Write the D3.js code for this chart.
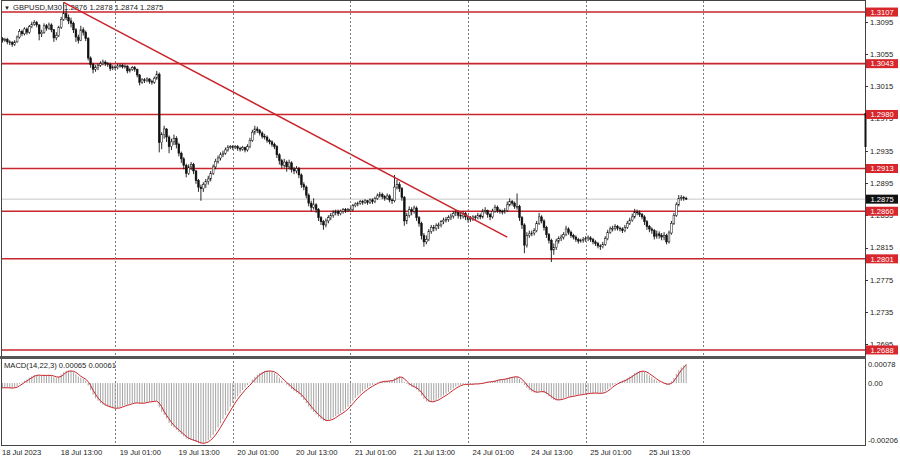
<!DOCTYPE html>
<html><head><meta charset="utf-8">
<script src="https://cdn.jsdelivr.net/npm/d3@7"></script>
<style>
body{margin:0;background:#fff}
svg{display:block}
text{font-family:"Liberation Sans",Arial,sans-serif}
</style>
</head><body>
<svg id="c" width="900" height="460"></svg>
<script>
// ---------------- DATA ----------------
const symbol = "GBPUSD,M30";
const macdName = "MACD(14,22,3)";
// M30 bars, index 0 = 18 Jul 2023 01:00
const opens = [
1.3071,1.3073,1.3074,1.3072,1.3073,1.3070,1.3069,1.3067,1.3070,1.3076,
1.3083,1.3080,1.3086,1.3082,1.3089,1.3092,1.3094,1.3091,1.3080,1.3082,
1.3090,1.3087,1.3091,1.3085,1.3075,1.3078,1.3088,1.3098,1.3105,1.3100,
1.3096,1.3093,1.3085,1.3076,1.3072,1.3085,1.3082,1.3074,1.3050,1.3042,
1.3036,1.3038,1.3041,1.3043,1.3045,1.3043,1.3042,1.3037,1.3039,1.3038,
1.3040,1.3041,1.3039,1.3040,1.3034,1.3036,1.3038,1.3036,1.3029,1.3020,
1.3023,1.3022,1.3024,1.3021,1.3020,1.3025,1.3030,1.2945,1.2955,1.2962,
1.2952,1.2940,1.2946,1.2950,1.2943,1.2932,1.2925,1.2917,1.2907,1.2915,
1.2918,1.2910,1.2898,1.2890,1.2888,1.2893,1.2897,1.2900,1.2907,1.2915,
1.2922,1.2926,1.2930,1.2932,1.2936,1.2939,1.2940,1.2939,1.2940,1.2938,
1.2937,1.2939,1.2936,1.2940,1.2948,1.2958,1.2962,1.2960,1.2957,1.2953,
1.2952,1.2948,1.2946,1.2943,1.2940,1.2930,1.2923,1.2917,1.2921,1.2915,
1.2920,1.2912,1.2910,1.2913,1.2905,1.2893,1.2890,1.2880,1.2870,1.2865,
1.2868,1.2862,1.2852,1.2847,1.2843,1.2848,1.2852,1.2855,1.2858,1.2860,
1.2857,1.2860,1.2862,1.2861,1.2862,1.2862,1.2867,1.2869,1.2870,1.2872,
1.2871,1.2873,1.2871,1.2874,1.2872,1.2876,1.2879,1.2881,1.2878,1.2876,
1.2879,1.2874,1.2873,1.2890,1.2893,1.2888,1.2877,1.2848,1.2855,1.2862,
1.2860,1.2864,1.2852,1.2845,1.2830,1.2822,1.2825,1.2835,1.2840,1.2839,
1.2842,1.2843,1.2847,1.2849,1.2850,1.2852,1.2854,1.2857,1.2859,1.2855,
1.2854,1.2857,1.2853,1.2850,1.2851,1.2853,1.2852,1.2855,1.2853,1.2860,
1.2861,1.2856,1.2853,1.2860,1.2865,1.2861,1.2860,1.2859,1.2861,1.2868,
1.2872,1.2870,1.2866,1.2866,1.2852,1.2843,1.2818,1.2830,1.2832,1.2833,
1.2836,1.2845,1.2853,1.2848,1.2840,1.2831,1.2824,1.2812,1.2815,1.2823,
1.2826,1.2828,1.2831,1.2838,1.2834,1.2830,1.2828,1.2825,1.2823,1.2824,
1.2825,1.2826,1.2827,1.2825,1.2822,1.2820,1.2817,1.2816,1.2819,1.2826,
1.2834,1.2838,1.2839,1.2841,1.2839,1.2838,1.2836,1.2840,1.2845,1.2849,
1.2853,1.2859,1.2858,1.2856,1.2853,1.2847,1.2841,1.2838,1.2836,1.2829,
1.2832,1.2830,1.2828,1.2830,1.2822,1.2833,1.2845,1.2855,1.2868,1.2876,
1.2877,1.2876];
const highs = [
1.3076,1.3077,1.3076,1.3075,1.3075,1.3072,1.3071,1.3072,1.3078,1.3086,
1.3085,1.3088,1.3088,1.3091,1.3095,1.3097,1.3096,1.3092,1.3085,1.3093,
1.3092,1.3094,1.3093,1.3086,1.3082,1.3090,1.3101,1.3119,1.3110,1.3104,
1.3100,1.3095,1.3087,1.3079,1.3090,1.3088,1.3084,1.3076,1.3052,1.3044,
1.3041,1.3043,1.3046,1.3048,1.3047,1.3045,1.3044,1.3041,1.3041,1.3043,
1.3043,1.3043,1.3042,1.3041,1.3038,1.3040,1.3040,1.3037,1.3030,1.3025,
1.3025,1.3026,1.3025,1.3023,1.3027,1.3034,1.3032,1.2958,1.2966,1.2963,
1.2954,1.2950,1.2955,1.2953,1.2945,1.2934,1.2927,1.2919,1.2918,1.2921,
1.2920,1.2911,1.2900,1.2893,1.2896,1.2900,1.2904,1.2910,1.2918,1.2925,
1.2929,1.2933,1.2935,1.2939,1.2942,1.2942,1.2942,1.2942,1.2942,1.2940,
1.2941,1.2940,1.2943,1.2951,1.2961,1.2966,1.2965,1.2962,1.2959,1.2956,
1.2954,1.2950,1.2948,1.2945,1.2942,1.2932,1.2925,1.2925,1.2923,1.2924,
1.2922,1.2915,1.2916,1.2915,1.2907,1.2896,1.2892,1.2882,1.2873,1.2876,
1.2870,1.2864,1.2854,1.2849,1.2851,1.2855,1.2858,1.2861,1.2862,1.2862,
1.2862,1.2864,1.2864,1.2864,1.2865,1.2869,1.2871,1.2872,1.2874,1.2874,
1.2875,1.2874,1.2876,1.2876,1.2878,1.2882,1.2884,1.2883,1.2880,1.2882,
1.2881,1.2876,1.2905,1.2899,1.2896,1.2890,1.2879,1.2858,1.2866,1.2865,
1.2867,1.2866,1.2854,1.2847,1.2833,1.2830,1.2838,1.2843,1.2843,1.2845,
1.2846,1.2849,1.2852,1.2853,1.2855,1.2857,1.2860,1.2862,1.2861,1.2858,
1.2860,1.2859,1.2855,1.2854,1.2855,1.2855,1.2858,1.2857,1.2863,1.2865,
1.2862,1.2858,1.2863,1.2868,1.2867,1.2863,1.2862,1.2864,1.2872,1.2876,
1.2874,1.2872,1.2882,1.2868,1.2854,1.2845,1.2834,1.2836,1.2836,1.2839,
1.2848,1.2858,1.2855,1.2850,1.2842,1.2833,1.2826,1.2820,1.2826,1.2829,
1.2831,1.2834,1.2842,1.2840,1.2836,1.2832,1.2830,1.2827,1.2826,1.2828,
1.2829,1.2830,1.2829,1.2827,1.2824,1.2822,1.2819,1.2822,1.2829,1.2837,
1.2841,1.2842,1.2844,1.2843,1.2841,1.2840,1.2843,1.2848,1.2852,1.2857,
1.2863,1.2862,1.2861,1.2858,1.2855,1.2849,1.2843,1.2840,1.2838,1.2836,
1.2835,1.2833,1.2834,1.2832,1.2836,1.2848,1.2858,1.2871,1.2880,1.2880,
1.2879,1.2878];
const lows = [
1.3068,1.3070,1.3069,1.3070,1.3067,1.3066,1.3064,1.3065,1.3069,1.3074,
1.3077,1.3078,1.3079,1.3080,1.3087,1.3090,1.3088,1.3072,1.3076,1.3080,
1.3084,1.3085,1.3082,1.3070,1.3072,1.3076,1.3086,1.3096,1.3097,1.3092,
1.3088,1.3081,1.3070,1.3068,1.3071,1.3078,1.3071,1.3047,1.3038,1.3031,
1.3033,1.3035,1.3039,1.3041,1.3040,1.3039,1.3034,1.3035,1.3035,1.3036,
1.3038,1.3037,1.3037,1.3031,1.3032,1.3034,1.3033,1.3026,1.3016,1.3018,
1.3019,1.3020,1.3018,1.3017,1.3018,1.3023,1.2933,1.2937,1.2950,1.2946,
1.2932,1.2936,1.2942,1.2938,1.2928,1.2920,1.2912,1.2902,1.2905,1.2911,
1.2906,1.2894,1.2884,1.2873,1.2884,1.2889,1.2893,1.2897,1.2905,1.2912,
1.2919,1.2923,1.2927,1.2930,1.2934,1.2937,1.2936,1.2937,1.2935,1.2934,
1.2935,1.2933,1.2934,1.2938,1.2946,1.2955,1.2957,1.2954,1.2950,1.2949,
1.2945,1.2943,1.2940,1.2937,1.2926,1.2918,1.2913,1.2914,1.2909,1.2912,
1.2908,1.2906,1.2907,1.2901,1.2889,1.2886,1.2876,1.2866,1.2860,1.2862,
1.2858,1.2848,1.2843,1.2837,1.2840,1.2845,1.2849,1.2852,1.2855,1.2854,
1.2855,1.2857,1.2858,1.2859,1.2859,1.2860,1.2865,1.2866,1.2868,1.2868,
1.2869,1.2868,1.2869,1.2869,1.2870,1.2874,1.2877,1.2875,1.2873,1.2874,
1.2871,1.2869,1.2871,1.2887,1.2884,1.2873,1.2842,1.2844,1.2852,1.2855,
1.2857,1.2848,1.2841,1.2825,1.2816,1.2819,1.2823,1.2832,1.2835,1.2836,
1.2838,1.2840,1.2844,1.2846,1.2847,1.2849,1.2851,1.2854,1.2851,1.2850,
1.2851,1.2849,1.2846,1.2847,1.2848,1.2849,1.2850,1.2850,1.2851,1.2857,
1.2852,1.2849,1.2851,1.2858,1.2858,1.2857,1.2856,1.2857,1.2859,1.2866,
1.2867,1.2863,1.2862,1.2848,1.2838,1.2808,1.2815,1.2827,1.2829,1.2830,
1.2834,1.2843,1.2845,1.2836,1.2827,1.2820,1.2797,1.2806,1.2812,1.2820,
1.2823,1.2825,1.2829,1.2831,1.2827,1.2825,1.2822,1.2820,1.2821,1.2821,
1.2822,1.2823,1.2822,1.2819,1.2817,1.2814,1.2812,1.2814,1.2817,1.2824,
1.2832,1.2835,1.2836,1.2836,1.2835,1.2833,1.2834,1.2838,1.2843,1.2847,
1.2851,1.2855,1.2853,1.2850,1.2843,1.2837,1.2834,1.2832,1.2825,1.2826,
1.2826,1.2824,1.2824,1.2819,1.2820,1.2831,1.2843,1.2853,1.2866,1.2873,
1.2873,1.2874];
const closes = [
1.3073,1.3074,1.3072,1.3073,1.3070,1.3069,1.3067,1.3070,1.3076,1.3083,
1.3080,1.3086,1.3082,1.3089,1.3092,1.3094,1.3091,1.3080,1.3082,1.3090,
1.3087,1.3091,1.3085,1.3075,1.3078,1.3088,1.3098,1.3105,1.3100,1.3096,
1.3093,1.3085,1.3076,1.3072,1.3085,1.3082,1.3074,1.3050,1.3042,1.3036,
1.3038,1.3041,1.3043,1.3045,1.3043,1.3042,1.3037,1.3039,1.3038,1.3040,
1.3041,1.3039,1.3040,1.3034,1.3036,1.3038,1.3036,1.3029,1.3020,1.3023,
1.3022,1.3024,1.3021,1.3020,1.3025,1.3030,1.2945,1.2955,1.2962,1.2952,
1.2940,1.2946,1.2950,1.2943,1.2932,1.2925,1.2917,1.2907,1.2915,1.2918,
1.2910,1.2898,1.2890,1.2888,1.2893,1.2897,1.2900,1.2907,1.2915,1.2922,
1.2926,1.2930,1.2932,1.2936,1.2939,1.2940,1.2939,1.2940,1.2938,1.2937,
1.2939,1.2936,1.2940,1.2948,1.2958,1.2962,1.2960,1.2957,1.2953,1.2952,
1.2948,1.2946,1.2943,1.2940,1.2930,1.2923,1.2917,1.2921,1.2915,1.2920,
1.2912,1.2910,1.2913,1.2905,1.2893,1.2890,1.2880,1.2870,1.2865,1.2868,
1.2862,1.2852,1.2847,1.2843,1.2848,1.2852,1.2855,1.2858,1.2860,1.2857,
1.2860,1.2862,1.2861,1.2862,1.2862,1.2867,1.2869,1.2870,1.2872,1.2871,
1.2873,1.2871,1.2874,1.2872,1.2876,1.2879,1.2881,1.2878,1.2876,1.2879,
1.2874,1.2873,1.2890,1.2893,1.2888,1.2877,1.2848,1.2855,1.2862,1.2860,
1.2864,1.2852,1.2845,1.2830,1.2822,1.2825,1.2835,1.2840,1.2839,1.2842,
1.2843,1.2847,1.2849,1.2850,1.2852,1.2854,1.2857,1.2859,1.2855,1.2854,
1.2857,1.2853,1.2850,1.2851,1.2853,1.2852,1.2855,1.2853,1.2860,1.2861,
1.2856,1.2853,1.2860,1.2865,1.2861,1.2860,1.2859,1.2861,1.2868,1.2872,
1.2870,1.2866,1.2866,1.2852,1.2843,1.2818,1.2830,1.2832,1.2833,1.2836,
1.2845,1.2853,1.2848,1.2840,1.2831,1.2824,1.2812,1.2815,1.2823,1.2826,
1.2828,1.2831,1.2838,1.2834,1.2830,1.2828,1.2825,1.2823,1.2824,1.2825,
1.2826,1.2827,1.2825,1.2822,1.2820,1.2817,1.2816,1.2819,1.2826,1.2834,
1.2838,1.2839,1.2841,1.2839,1.2838,1.2836,1.2840,1.2845,1.2849,1.2853,
1.2859,1.2858,1.2856,1.2853,1.2847,1.2841,1.2838,1.2836,1.2829,1.2832,
1.2830,1.2828,1.2830,1.2822,1.2833,1.2845,1.2855,1.2868,1.2876,1.2877,
1.2876,1.2875];
const macd = [
-0.00014,-0.00016,-0.00017,-0.00016,-0.00016,-0.00017,-0.00017,-0.00015,-0.00010,-0.00003,
0.00002,0.00008,0.00012,0.00018,0.00023,0.00027,0.00028,0.00026,0.00025,0.00026,
0.00026,0.00027,0.00025,0.00020,0.00018,0.00022,0.00029,0.00037,0.00041,0.00042,
0.00041,0.00037,0.00030,0.00022,0.00018,0.00014,0.00008,-0.00008,-0.00024,-0.00039,
-0.00051,-0.00060,-0.00068,-0.00073,-0.00077,-0.00080,-0.00083,-0.00085,-0.00086,-0.00084,
-0.00081,-0.00078,-0.00075,-0.00073,-0.00070,-0.00068,-0.00067,-0.00067,-0.00069,-0.00068,
-0.00066,-0.00064,-0.00063,-0.00062,-0.00061,-0.00060,-0.00082,-0.00098,-0.00108,-0.00120,
-0.00135,-0.00145,-0.00150,-0.00158,-0.00166,-0.00173,-0.00180,-0.00188,-0.00191,-0.00192,
-0.00195,-0.00199,-0.00203,-0.00205,-0.00203,-0.00199,-0.00194,-0.00186,-0.00176,-0.00163,
-0.00150,-0.00136,-0.00122,-0.00108,-0.00094,-0.00080,-0.00067,-0.00055,-0.00044,-0.00034,
-0.00024,-0.00015,-0.00007,0.00002,0.00012,0.00021,0.00028,0.00034,0.00038,0.00041,
0.00042,0.00041,0.00038,0.00034,0.00027,0.00018,0.00009,0.00002,-0.00006,-0.00012,
-0.00020,-0.00027,-0.00032,-0.00038,-0.00048,-0.00057,-0.00068,-0.00080,-0.00090,-0.00098,
-0.00106,-0.00115,-0.00122,-0.00127,-0.00128,-0.00126,-0.00122,-0.00117,-0.00111,-0.00106,
-0.00101,-0.00095,-0.00088,-0.00080,-0.00070,-0.00060,-0.00050,-0.00042,-0.00035,-0.00028,
-0.00021,-0.00016,-0.00010,-0.00006,-0.00002,0.00002,0.00005,0.00006,0.00006,0.00007,
0.00008,0.00009,0.00016,0.00021,0.00022,0.00018,0.00004,-0.00003,-0.00008,-0.00012,
-0.00015,-0.00022,-0.00030,-0.00042,-0.00054,-0.00062,-0.00064,-0.00063,-0.00061,-0.00057,
-0.00052,-0.00047,-0.00042,-0.00036,-0.00030,-0.00024,-0.00018,-0.00012,-0.00008,-0.00006,
-0.00004,-0.00004,-0.00004,-0.00004,-0.00003,-0.00003,-0.00002,-0.00002,0.00001,0.00003,
0.00004,0.00004,0.00006,0.00009,0.00011,0.00012,0.00013,0.00014,0.00017,0.00020,
0.00021,0.00021,0.00021,0.00014,0.00005,-0.00007,-0.00016,-0.00024,-0.00029,-0.00032,
-0.00031,-0.00027,-0.00028,-0.00033,-0.00038,-0.00045,-0.00052,-0.00057,-0.00058,-0.00057,
-0.00054,-0.00051,-0.00047,-0.00046,-0.00045,-0.00043,-0.00041,-0.00040,-0.00039,-0.00037,
-0.00036,-0.00035,-0.00034,-0.00034,-0.00034,-0.00035,-0.00035,-0.00033,-0.00028,-0.00021,
-0.00014,-0.00008,-0.00003,0.00001,0.00005,0.00008,0.00012,0.00017,0.00022,0.00027,
0.00034,0.00038,0.00041,0.00041,0.00038,0.00032,0.00026,0.00020,0.00013,0.00008,
0.00004,0.00000,-0.00003,-0.00006,-0.00003,0.00006,0.00017,0.00031,0.00044,0.00053,
0.00060,0.00065];
const signal = [
-0.00013,-0.00015,-0.00016,-0.00016,-0.00016,-0.00016,-0.00017,-0.00016,-0.00014,-0.00009,
-0.00004,0.00002,0.00007,0.00013,0.00018,0.00023,0.00026,0.00027,0.00026,0.00026,
0.00026,0.00026,0.00026,0.00024,0.00021,0.00020,0.00023,0.00029,0.00036,0.00040,
0.00041,0.00040,0.00036,0.00030,0.00023,0.00018,0.00013,0.00005,-0.00008,-0.00024,
-0.00038,-0.00050,-0.00060,-0.00067,-0.00073,-0.00077,-0.00080,-0.00083,-0.00085,-0.00085,
-0.00084,-0.00081,-0.00078,-0.00075,-0.00073,-0.00070,-0.00068,-0.00067,-0.00068,-0.00068,
-0.00068,-0.00066,-0.00064,-0.00063,-0.00062,-0.00061,-0.00068,-0.00080,-0.00096,-0.00109,
-0.00121,-0.00133,-0.00143,-0.00151,-0.00158,-0.00166,-0.00173,-0.00180,-0.00186,-0.00190,
-0.00193,-0.00195,-0.00199,-0.00202,-0.00204,-0.00202,-0.00199,-0.00193,-0.00185,-0.00175,
-0.00163,-0.00150,-0.00136,-0.00122,-0.00108,-0.00094,-0.00080,-0.00067,-0.00055,-0.00044,
-0.00034,-0.00024,-0.00015,-0.00007,0.00002,0.00012,0.00020,0.00028,0.00033,0.00038,
0.00040,0.00041,0.00040,0.00038,0.00033,0.00026,0.00018,0.00010,0.00002,-0.00005,
-0.00013,-0.00020,-0.00026,-0.00032,-0.00039,-0.00048,-0.00058,-0.00068,-0.00079,-0.00089,
-0.00098,-0.00106,-0.00114,-0.00121,-0.00126,-0.00127,-0.00125,-0.00122,-0.00117,-0.00111,
-0.00106,-0.00101,-0.00095,-0.00088,-0.00079,-0.00070,-0.00060,-0.00051,-0.00042,-0.00035,
-0.00028,-0.00022,-0.00016,-0.00011,-0.00006,-0.00002,0.00002,0.00004,0.00006,0.00006,
0.00007,0.00008,0.00011,0.00015,0.00020,0.00020,0.00015,0.00006,-0.00002,-0.00008,
-0.00012,-0.00016,-0.00022,-0.00031,-0.00042,-0.00053,-0.00060,-0.00063,-0.00063,-0.00060,
-0.00057,-0.00052,-0.00047,-0.00042,-0.00036,-0.00030,-0.00024,-0.00018,-0.00013,-0.00009,
-0.00006,-0.00005,-0.00004,-0.00004,-0.00004,-0.00003,-0.00003,-0.00002,-0.00001,0.00001,
0.00003,0.00004,0.00005,0.00006,0.00009,0.00011,0.00012,0.00013,0.00015,0.00017,
0.00019,0.00021,0.00021,0.00019,0.00013,0.00004,-0.00006,-0.00016,-0.00023,-0.00028,
-0.00031,-0.00030,-0.00029,-0.00029,-0.00033,-0.00039,-0.00045,-0.00051,-0.00056,-0.00057,
-0.00056,-0.00054,-0.00051,-0.00048,-0.00046,-0.00045,-0.00043,-0.00041,-0.00040,-0.00039,
-0.00037,-0.00036,-0.00035,-0.00034,-0.00034,-0.00034,-0.00035,-0.00034,-0.00032,-0.00027,
-0.00021,-0.00014,-0.00008,-0.00003,0.00001,0.00005,0.00008,0.00012,0.00017,0.00022,
0.00028,0.00033,0.00038,0.00040,0.00040,0.00037,0.00032,0.00026,0.00020,0.00014,
0.00008,0.00004,0.00000,-0.00003,-0.00004,-0.00001,0.00007,0.00018,0.00031,0.00043,
0.00052,0.00061];
// horizontal support / resistance levels
const levels = [1.3107, 1.3043, 1.2980, 1.2913, 1.2860, 1.2801, 1.2688];
// trend line anchors (bar index, price)
const trendBars = [27, 208];
const trendPrices = [1.3119, 1.2828];
// axes
const priceTicks = [1.3095,1.3055,1.3015,1.2975,1.2935,1.2895,1.2855,1.2815,1.2775,1.2735,1.2695];
const macdTicks = [0.00078, 0, -0.00206];
const macdTickLabels = ["0.00078", "0.00", "-0.00206"];
const timeBars = [0,24,48,72,96,120,144,168,192,216,240,264];
const timeLabels = ["18 Jul 2023","18 Jul 13:00","19 Jul 01:00","19 Jul 13:00","20 Jul 01:00","20 Jul 13:00",
  "21 Jul 01:00","21 Jul 13:00","24 Jul 01:00","24 Jul 13:00","25 Jul 01:00","25 Jul 13:00"];
const gridBars = [48,96,144,192,240,288];

// ---------------- LAYOUT ----------------
const L = 1, R = 865, mainT = 1, mainB = 356, macdT = 359, macdB = 445;
const RED = "#c9252c", BOXRED = "#d7262c";
const FS = 7.6;
const svg = d3.select("#c");
const x = d3.scaleLinear().domain([0, 288]).range([-2.5, 703.3]);
const y = d3.scaleLinear().domain([1.26805, 1.31207]).range([mainB, mainT]);
const ym = d3.scaleLinear().domain([-0.00206, 0.00078]).range([444, 360]);
const fmt4 = d3.format(".4f"), fmt5 = d3.format(".5f");

svg.append("rect").attr("width", 900).attr("height", 460).attr("fill", "#fff");
const defs = svg.append("defs");
defs.append("clipPath").attr("id", "cm").append("rect").attr("x", L).attr("y", mainT).attr("width", R - L).attr("height", mainB - mainT);
defs.append("clipPath").attr("id", "cd").append("rect").attr("x", L).attr("y", macdT).attr("width", R - L).attr("height", macdB - macdT);

const n = closes.length, last = n - 1;

// title
const gm = svg.append("g").attr("clip-path", "url(#cm)");
gm.append("text").attr("x", 4).attr("y", 9.5).attr("font-size", 6).attr("fill", "#222").text("\u25BC");
gm.append("text").attr("x", 13).attr("y", 9.6).attr("font-size", FS).attr("fill", "#222")
  .text(`${symbol} ${fmt4(opens[last])} ${fmt4(highs[last])} ${fmt4(lows[last])} ${fmt4(closes[last])}`);

// vertical dotted grid (both panels)
svg.append("g").selectAll("line").data(gridBars).join("line")
  .attr("x1", d => Math.round(x(d)) + 0.5).attr("x2", d => Math.round(x(d)) + 0.5)
  .attr("y1", mainT).attr("y2", macdB)
  .attr("stroke", "#7a7a7a").attr("stroke-width", 1).attr("stroke-dasharray", "2,2");

// current price line
gm.append("line").attr("x1", L).attr("x2", R).attr("y1", y(closes[last])).attr("y2", y(closes[last]))
  .attr("stroke", "#c8c8c8").attr("stroke-width", 1);

// level lines
gm.selectAll("line.lvl").data(levels).join("line").attr("class", "lvl")
  .attr("x1", L).attr("x2", R).attr("y1", d => y(d)).attr("y2", d => y(d))
  .attr("stroke", RED).attr("stroke-width", 1.6);

// candles
const bars = closes.map((c, i) => ({ i, o: opens[i], h: highs[i], l: lows[i], c }));
gm.append("g").selectAll("line").data(bars).join("line")
  .attr("x1", d => x(d.i)).attr("x2", d => x(d.i))
  .attr("y1", d => y(d.h)).attr("y2", d => y(d.l))
  .attr("stroke", "#111").attr("stroke-width", 0.9);
gm.append("g").selectAll("rect").data(bars).join("rect")
  .attr("x", d => x(d.i) - 0.9).attr("width", 1.8)
  .attr("y", d => y(Math.max(d.o, d.c)))
  .attr("height", d => Math.max(0.8, Math.abs(y(d.o) - y(d.c))))
  .attr("fill", d => d.c >= d.o ? "#fff" : "#111")
  .attr("stroke", "#111").attr("stroke-width", 0.5);

// trend line
gm.append("line")
  .attr("x1", x(trendBars[0])).attr("y1", y(trendPrices[0]))
  .attr("x2", x(trendBars[1])).attr("y2", y(trendPrices[1]))
  .attr("stroke", RED).attr("stroke-width", 1.5);

// MACD panel
const gd = svg.append("g").attr("clip-path", "url(#cd)");
gd.append("g").selectAll("line").data(macd).join("line")
  .attr("x1", (d, i) => x(i)).attr("x2", (d, i) => x(i))
  .attr("y1", ym(0)).attr("y2", d => ym(d))
  .attr("stroke", "#a4a4a4").attr("stroke-width", 1);
gd.append("path").datum(signal)
  .attr("d", d3.line().x((d, i) => x(i)).y(d => ym(d)))
  .attr("fill", "none").attr("stroke", RED).attr("stroke-width", 1);
gd.append("text").attr("x", 4).attr("y", 368).attr("font-size", FS).attr("fill", "#222")
  .text(`${macdName} ${fmt5(macd[last])} ${fmt5(signal[last])}`);

// frames
svg.append("rect").attr("x", L + 0.5).attr("y", 0.5).attr("width", R - L).attr("height", macdB)
  .attr("fill", "none").attr("stroke", "#444").attr("stroke-width", 1);
svg.append("rect").attr("x", 0).attr("y", mainB).attr("width", R + 1).attr("height", 3).attr("fill", "#555");
svg.append("rect").attr("x", R - 0.5).attr("y", 113).attr("width", 2).attr("height", 34).attr("fill", "#111");

// price axis
const ga = svg.append("g");
ga.selectAll("line").data(priceTicks).join("line")
  .attr("x1", R).attr("x2", R + 3).attr("y1", d => Math.round(y(d)) + 0.5).attr("y2", d => Math.round(y(d)) + 0.5)
  .attr("stroke", "#333");
ga.selectAll("text").data(priceTicks).join("text")
  .attr("x", R + 5).attr("y", d => y(d) + 2.8).attr("font-size", FS).attr("fill", "#222").text(d => fmt4(d));

// level price boxes
const gb = svg.append("g");
gb.selectAll("rect").data(levels).join("rect")
  .attr("x", R + 1).attr("y", d => y(d) - 4.5).attr("width", 32).attr("height", 9).attr("fill", BOXRED);
gb.selectAll("text").data(levels).join("text")
  .attr("x", R + 17).attr("y", d => y(d) + 2.8).attr("text-anchor", "middle")
  .attr("font-size", FS).attr("fill", "#fff").text(d => fmt4(d));
// current price box
svg.append("rect").attr("x", R + 1).attr("y", y(closes[last]) - 4.5).attr("width", 32).attr("height", 9).attr("fill", "#111");
svg.append("text").attr("x", R + 17).attr("y", y(closes[last]) + 2.8).attr("text-anchor", "middle")
  .attr("font-size", FS).attr("fill", "#fff").text(fmt4(closes[last]));

// MACD axis
svg.append("g").selectAll("text").data(macdTicks).join("text")
  .attr("x", R + 3).attr("y", (d, i) => i === 0 ? 366.5 : i === 1 ? ym(d) + 2.8 : 442.5)
  .attr("font-size", FS).attr("fill", "#222").text((d, i) => macdTickLabels[i]);

// time axis
svg.append("g").selectAll("text").data(timeBars).join("text")
  .attr("x", d => x(d) + 4.5).attr("y", 455).attr("font-size", FS).attr("fill", "#222")
  .text((d, i) => timeLabels[i]);
</script>
</body></html>
